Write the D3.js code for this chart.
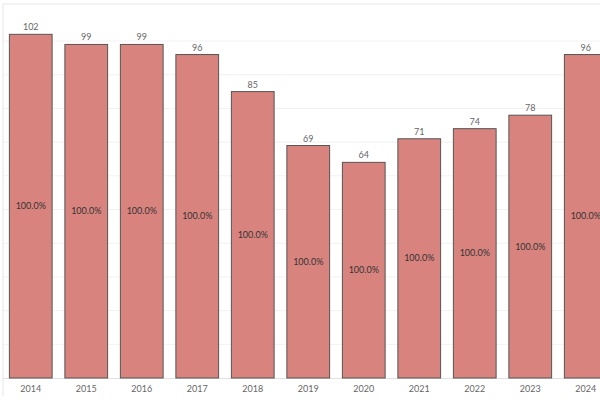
<!DOCTYPE html><html><head><script src="https://cdn.jsdelivr.net/npm/d3@7"></script>
<style>body{margin:0;background:#fff}</style></head><body><svg width="600" height="400"></svg>
<script>
const years=["2014","2015","2016","2017","2018","2019","2020","2021","2022","2023","2024"];
const values=[102,99,99,96,85,69,64,71,74,78,96];
const pctLabels=["100.0%","100.0%","100.0%","100.0%","100.0%","100.0%","100.0%","100.0%","100.0%","100.0%","100.0%"];
const gridTicks=[10,20,30,40,50,60,70,80,90,100];
const svg=d3.select("svg");
const x=d3.scaleBand().domain(years).range([3,613.5]).paddingInner(0.23).paddingOuter(0.115);
const y=d3.scaleLinear().domain([0,111]).range([378,4]);
const f="Lato, 'Open Sans', sans-serif";
svg.append("g").selectAll("line").data(gridTicks).join("line")
 .attr("x1",3).attr("x2",600).attr("y1",d=>y(d)).attr("y2",d=>y(d)).attr("stroke","#f2f2f2");
svg.append("line").attr("x1",3).attr("x2",600).attr("y1",4).attr("y2",4).attr("stroke","#e6e6e6");
svg.append("line").attr("x1",3).attr("x2",3).attr("y1",4).attr("y2",396).attr("stroke","#e6e6e6");
svg.append("line").attr("x1",3).attr("x2",600).attr("y1",378.5).attr("y2",378.5).attr("stroke","#e0e0e0");
svg.append("g").selectAll("rect").data(values).join("rect")
 .attr("x",(d,i)=>x(years[i])).attr("width",x.bandwidth()).attr("y",d=>y(d)).attr("height",d=>y(0)-y(d))
 .attr("fill","#d9837f").attr("stroke","#555").attr("stroke-width",1);
svg.append("g").selectAll("text").data(values).join("text")
 .attr("x",(d,i)=>x(years[i])+x.bandwidth()/2).attr("y",d=>y(d)-4).attr("text-anchor","middle")
 .attr("font-family",f).attr("font-size",9).attr("fill","#666").text(d=>d);
svg.append("g").selectAll("text").data(values).join("text")
 .attr("x",(d,i)=>x(years[i])+x.bandwidth()/2).attr("y",d=>(y(d)+y(0))/2+3).attr("text-anchor","middle")
 .attr("font-family",f).attr("font-size",9).attr("fill","#333").text((d,i)=>pctLabels[i]);
const ax=svg.append("g").attr("transform","translate(0,378)").call(d3.axisBottom(x).tickSize(0).tickPadding(8));
ax.select(".domain").remove();
ax.selectAll("text").attr("font-family",f).attr("font-size",9).attr("fill","#666");
</script></body></html>
